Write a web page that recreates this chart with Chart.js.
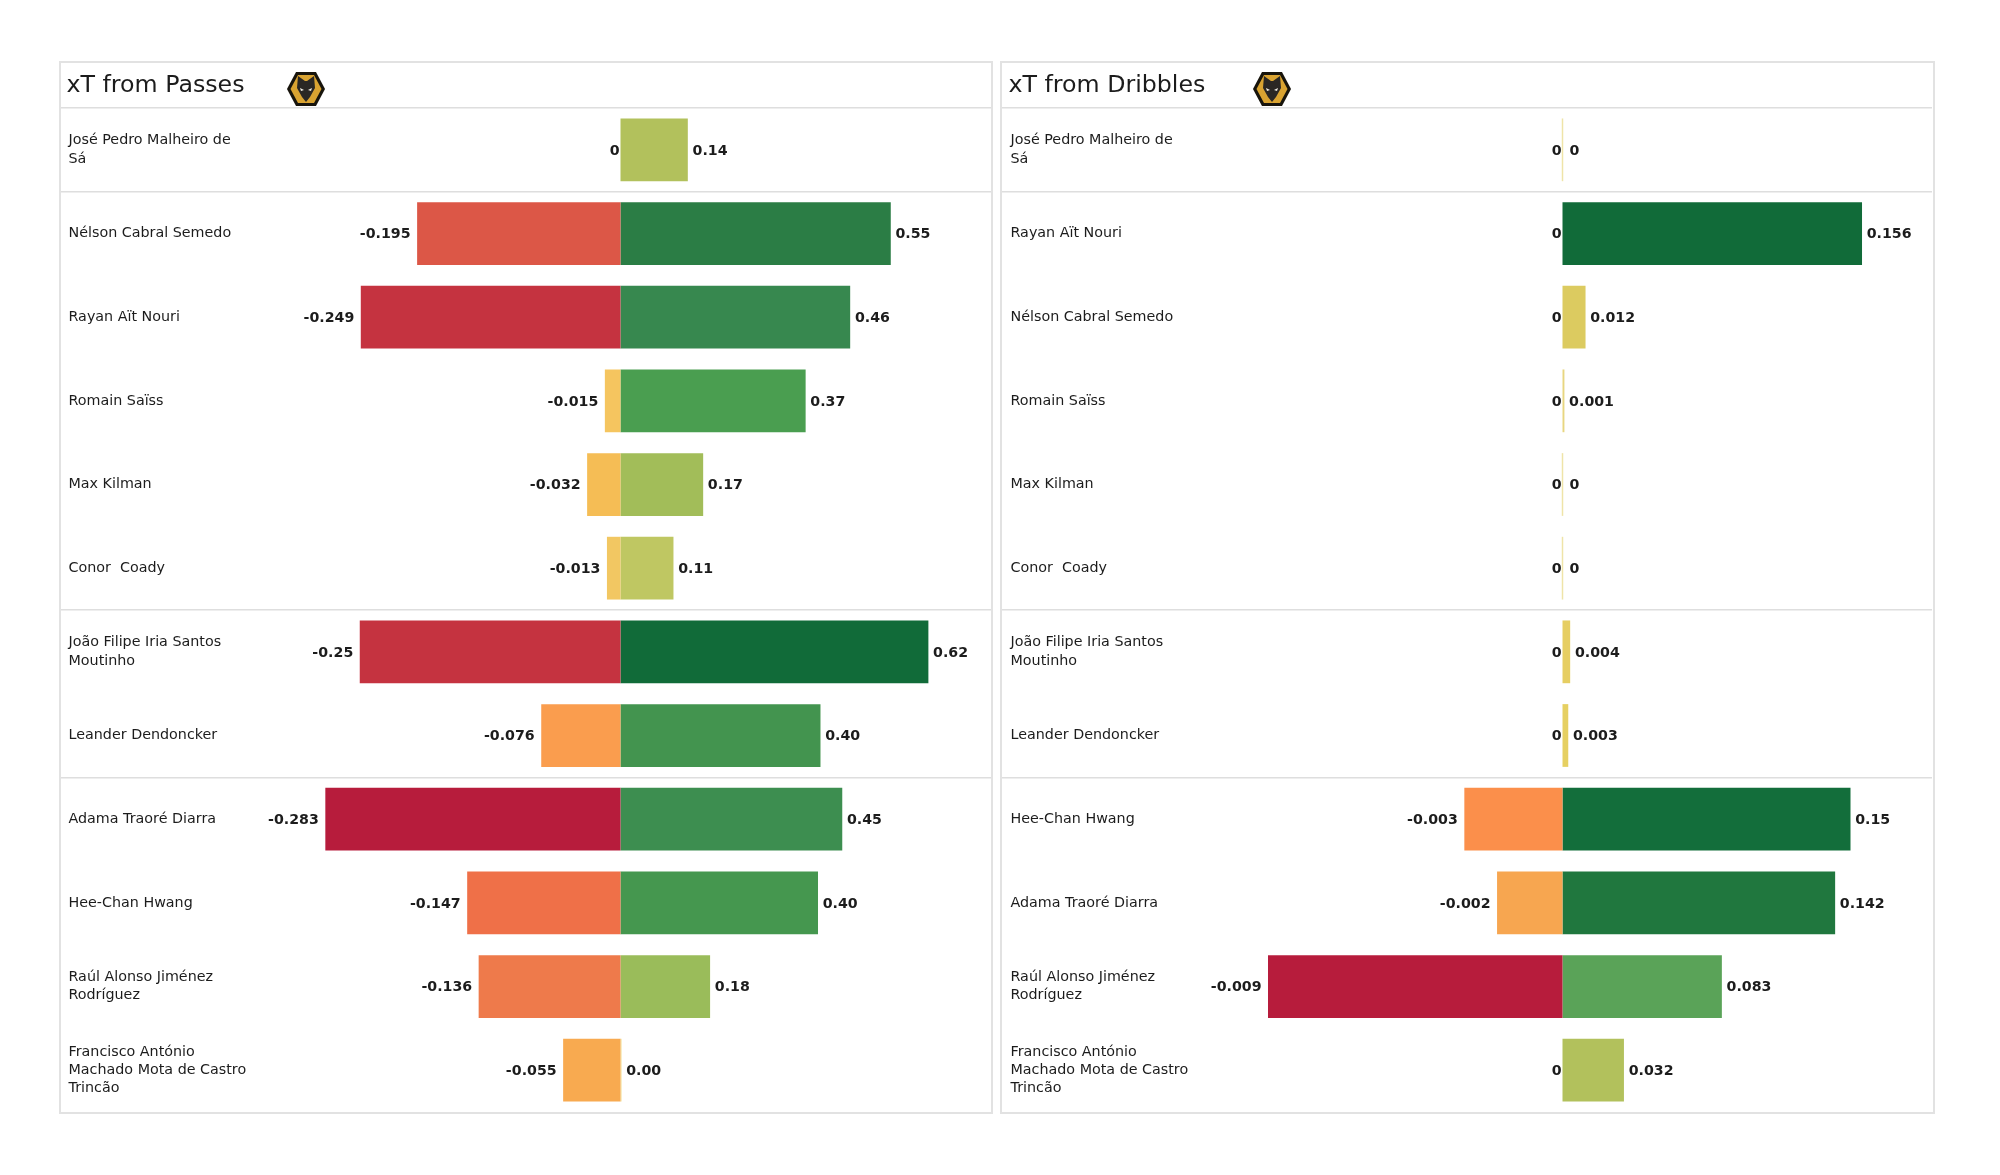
<!DOCTYPE html>
<html>
<head>
<meta charset="utf-8">
<title>xT from Passes and Dribbles</title>
<script src="https://cdn.jsdelivr.net/npm/chart.js@4"></script>
<style>
  html, body { margin: 0; background: #fff; }
  .panel { position: absolute; top: 62px; width: 931px; height: 1050px; }
  .panel canvas { position: absolute; left: 0; top: 0; }
  .frame { position: absolute; left: -1px; top: -1px; height: 1049px; border: 2px solid #e2e2e2; pointer-events: none; }
  .logo { position: absolute; top: 8px; width: 40px; height: 38px; }
</style>
</head>
<body>
<div class="panel" style="left:60px">
  <canvas id="passes" width="931" height="1050"></canvas>
  <div class="frame" style="width:930px"></div>
  <svg class="logo" style="left:226px" viewBox="0 0 40 38"><use href="#wolves"/></svg>
</div>
<div class="panel" style="left:1001px">
  <canvas id="dribbles" width="931" height="1050"></canvas>
  <div class="frame" style="width:931px"></div>
  <svg class="logo" style="left:251px" viewBox="0 0 40 38"><use href="#wolves"/></svg>
</div>
<svg width="0" height="0" style="position:absolute">
  <defs>
    <g id="wolves">
      <polygon points="10,2 30,2 39,19 30,36 10,36 1,19" fill="#17140c"/>
      <polygon points="12,5 28,5 35.5,19 28,33 12,33 4.5,19" fill="#d9a331"/>
      <polygon points="12,6 19,11 21,11 28,6 29,18 24,27 20,32 16,27 11,18" fill="#2a2724"/>
      <polygon points="14,18 18,20 15,21" fill="#f2efe6"/>
      <polygon points="26,18 22,20 25,21" fill="#f2efe6"/>
    </g>
  </defs>
</svg>
<script>
const passPlayers = [
  ['José Pedro Malheiro de', 'Sá'], 'Nélson Cabral Semedo', 'Rayan Aït Nouri', 'Romain Saïss', 'Max Kilman', 'Conor  Coady',
  ['João Filipe Iria Santos', 'Moutinho'], 'Leander Dendoncker', 'Adama Traoré Diarra', 'Hee-Chan Hwang',
  ['Raúl Alonso Jiménez', 'Rodríguez'], ['Francisco António', 'Machado Mota de Castro', 'Trincão'],
];
const dribblePlayers = [
  ['José Pedro Malheiro de', 'Sá'], 'Rayan Aït Nouri', 'Nélson Cabral Semedo', 'Romain Saïss', 'Max Kilman', 'Conor  Coady',
  ['João Filipe Iria Santos', 'Moutinho'], 'Leander Dendoncker', 'Hee-Chan Hwang', 'Adama Traoré Diarra',
  ['Raúl Alonso Jiménez', 'Rodríguez'], ['Francisco António', 'Machado Mota de Castro', 'Trincão'],
];

const passPositive = [0.136, 0.546, 0.464, 0.374, 0.167, 0.107, 0.622, 0.404, 0.448, 0.399, 0.181, 0.002];
const passNegative = [0, -0.195, -0.249, -0.015, -0.032, -0.013, -0.25, -0.076, -0.283, -0.147, -0.136, -0.055];
const dribblePositive = [0, 0.156, 0.012, 0.001, 0, 0, 0.004, 0.003, 0.15, 0.142, 0.083, 0.032];
const dribbleNegative = [0, 0, 0, 0, 0, 0, 0, 0, -0.003, -0.002, -0.009, 0];

const passPositiveColors = ['#b2c15c', '#2b7d45', '#37884f', '#4a9e50', '#a2bd59', '#bfc762', '#116b39', '#43944f', '#3d8e50', '#45974f', '#9abc5a', '#f0dc8c'];
const passNegativeColors = ['#f0dc8c', '#dc5747', '#c53340', '#f5c55f', '#f5bd55', '#f2c762', '#c53340', '#fa9d4e', '#b71c3c', '#ef7048', '#ee7a4b', '#f8aa50'];
const dribblePositiveColors = ['#efe4a8', '#116b39', '#dccb60', '#e8d681', '#efe4a8', '#efe4a8', '#e6ce62', '#e6d062', '#136e3b', '#20773e', '#5aa358', '#b2c15c'];
const dribbleNegativeColors = ['#efe4a8', '#efe4a8', '#efe4a8', '#efe4a8', '#efe4a8', '#efe4a8', '#efe4a8', '#efe4a8', '#fb8f4b', '#f7a650', '#b71c3c', '#efe4a8'];

const FONT = '"DejaVu Sans", sans-serif';
const HEADER = 46;
const SEPARATORS = [0, 1, 6, 8];

// title and the numbers next to the bars
const textPlugin = {
  id: 'panelText',
  afterDatasetsDraw(chart, args, opts) {
    const ctx = chart.ctx;
    ctx.save();
    ctx.fillStyle = '#1c1c1c';
    ctx.textBaseline = 'middle';
    ctx.textAlign = 'left';
    ctx.font = '23.7px ' + FONT;
    ctx.fillText(opts.title, opts.inset - 2, 23.5);
    ctx.font = 'bold 14.2px ' + FONT;
    chart.data.datasets.forEach((ds) => {
      const scale = chart.scales[ds.xAxisID];
      const negative = ds.xAxisID === 'xNeg';
      ctx.textAlign = negative ? 'right' : 'left';
      ds.data.forEach((v, i) => {
        const y = chart.scales.y.getPixelForValue(i) + 1;
        const x = scale.getPixelForValue(v);
        const gap = negative ? (v === 0 ? -1 : -6.5) : (v === 0 ? 7 : 4.7);
        ctx.fillText(opts.format(v), x + gap, y);
      });
    });
    ctx.restore();
  },
};

function makePanel(id, title, players, positive, negative, posColors, negColors, zero, posScale, negScale, format, inset) {
  const width = 931;
  return new Chart(document.getElementById(id), {
    type: 'bar',
    data: {
      labels: players,
      datasets: [
        { data: negative, xAxisID: 'xNeg', backgroundColor: negColors, grouped: false, barPercentage: 0.75, categoryPercentage: 1 },
        { data: positive, xAxisID: 'xPos', backgroundColor: posColors, grouped: false, barPercentage: 0.75, categoryPercentage: 1, minBarLength: id === 'dribbles' ? 1.5 : 0 },
      ],
    },
    plugins: [textPlugin],
    options: {
      indexAxis: 'y',
      responsive: false,
      animation: false,
      layout: { padding: { top: HEADER } },
      scales: {
        xPos: { type: 'linear', display: false, min: -zero / posScale, max: (width - zero) / posScale },
        xNeg: { type: 'linear', display: false, min: -zero / negScale, max: (width - zero) / negScale },
        y: {
          type: 'category',
          position: 'left',
          offset: true,
          // labels sit inside the plot, so the axis must not reserve room for them
          afterFit: (scale) => {
            scale.width = 0;
            scale.paddingTop = 0;
            scale.paddingBottom = 0;
            scale._margins = { left: 0, right: 0, top: 0, bottom: 0 };
          },
          border: { display: false },
          grid: {
            offset: true,
            drawTicks: false,
            lineWidth: 1.5,
            color: (c) => (SEPARATORS.includes(c.index) ? '#dedede' : 'transparent'),
          },
          ticks: {
            mirror: true,
            padding: inset,
            autoSkip: false,
            color: '#1c1c1c',
            font: { family: FONT, size: 14.3, lineHeight: 1.27 },
          },
        },
      },
      plugins: {
        legend: { display: false },
        tooltip: { enabled: false },
        panelText: { title, format, inset },
      },
    },
  });
}

makePanel('passes', 'xT from Passes', passPlayers, passPositive, passNegative, passPositiveColors, passNegativeColors,
  560.5, 495, 1043, (v) => (v < 0 ? String(v) : v === 0 ? '0' : v.toFixed(2)), 8.5);
makePanel('dribbles', 'xT from Dribbles', dribblePlayers, dribblePositive, dribbleNegative, dribblePositiveColors, dribbleNegativeColors,
  561.5, 1920, 32722, (v) => String(v), 9.5);
</script>
</body>
</html>
